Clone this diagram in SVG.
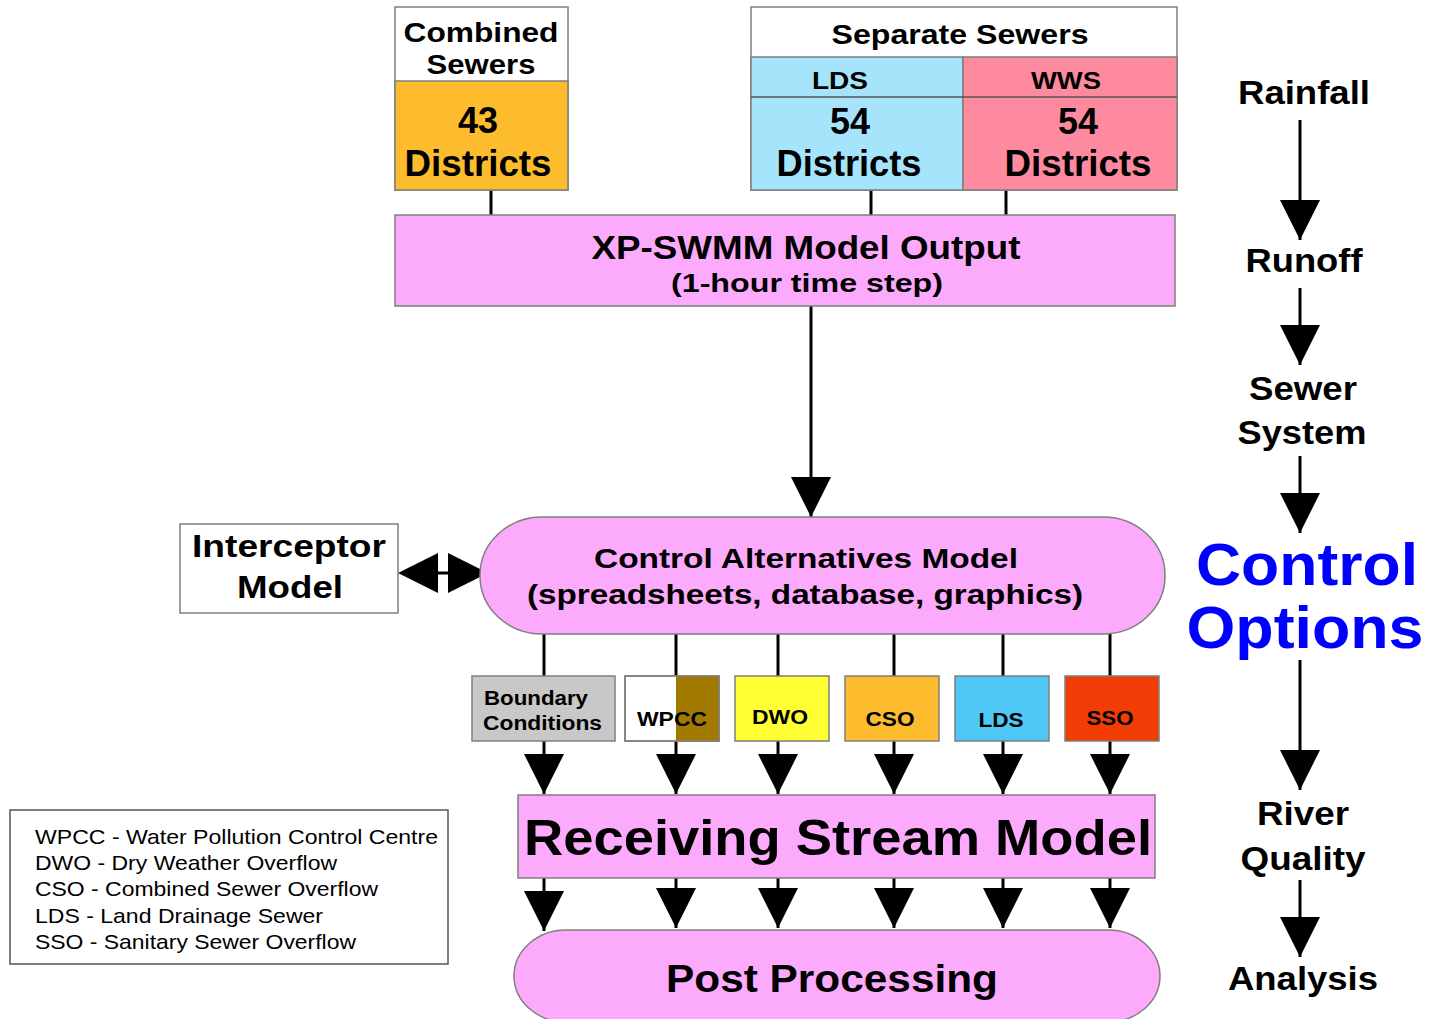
<svg xmlns="http://www.w3.org/2000/svg" width="1429" height="1019" viewBox="0 0 1429 1019">
<style>
.t{font-family:"Liberation Sans",Arial,sans-serif;font-weight:bold;fill:#000;text-anchor:middle}
.n{font-family:"Liberation Sans",Arial,sans-serif;fill:#000}
.bx{stroke:#7f7f7f;stroke-width:1.5}
.ln{stroke:#000;stroke-width:3;fill:none}
.ar{stroke:#000;stroke-width:3;fill:none;marker-end:url(#ah)}
.pk{fill:#FCAAFC}
</style>
<defs>
<marker id="ah" markerUnits="userSpaceOnUse" markerWidth="40" markerHeight="40" viewBox="0 0 36 36" refX="36" refY="18" orient="auto">
<path d="M0,0 L36,18 L0,36 Z" fill="#000"/>
</marker>
</defs>
<rect width="1429" height="1019" fill="#fff"/>

<g id="connectors">
<line class="ln" x1="491" y1="190" x2="491" y2="215"/>
<line class="ln" x1="871" y1="190" x2="871" y2="215"/>
<line class="ln" x1="1006" y1="190" x2="1006" y2="215"/>
<line class="ar" x1="811" y1="306" x2="811" y2="517"/>
<line class="ln" x1="430" y1="573" x2="456" y2="573"/>
<path d="M398,573 L438,553 L438,593 Z" fill="#000"/>
<path d="M488,573 L448,553 L448,593 Z" fill="#000"/>
<line class="ln" x1="544" y1="634" x2="544" y2="676"/>
<line class="ln" x1="676" y1="634" x2="676" y2="676"/>
<line class="ln" x1="778" y1="634" x2="778" y2="676"/>
<line class="ln" x1="894" y1="634" x2="894" y2="676"/>
<line class="ln" x1="1003" y1="634" x2="1003" y2="676"/>
<line class="ln" x1="1110" y1="634" x2="1110" y2="676"/>
<line class="ar" x1="544" y1="741" x2="544" y2="794"/>
<line class="ar" x1="676" y1="741" x2="676" y2="794"/>
<line class="ar" x1="778" y1="741" x2="778" y2="794"/>
<line class="ar" x1="894" y1="741" x2="894" y2="794"/>
<line class="ar" x1="1003" y1="741" x2="1003" y2="794"/>
<line class="ar" x1="1110" y1="741" x2="1110" y2="794"/>
<line class="ar" x1="544" y1="878" x2="544" y2="931"/>
<line class="ar" x1="676" y1="878" x2="676" y2="928"/>
<line class="ar" x1="778" y1="878" x2="778" y2="928"/>
<line class="ar" x1="894" y1="878" x2="894" y2="928"/>
<line class="ar" x1="1003" y1="878" x2="1003" y2="928"/>
<line class="ar" x1="1110" y1="878" x2="1110" y2="928"/>
<line class="ar" x1="1300" y1="120" x2="1300" y2="240"/>
<line class="ar" x1="1300" y1="288" x2="1300" y2="365"/>
<line class="ar" x1="1300" y1="456" x2="1300" y2="533"/>
<line class="ar" x1="1300" y1="660" x2="1300" y2="790"/>
<line class="ar" x1="1300" y1="880" x2="1300" y2="957"/>
</g>

<g id="combined-sewers">
<rect class="bx" x="395" y="7" width="173" height="183" fill="#fff"/>
<rect class="bx" x="395" y="81" width="173" height="109" fill="#FDBC2E"/>
<text class="t" x="481" y="42" font-size="28" textLength="155" lengthAdjust="spacingAndGlyphs">Combined</text>
<text class="t" x="481" y="74" font-size="28" textLength="109" lengthAdjust="spacingAndGlyphs">Sewers</text>
<text class="t" x="478" y="133" font-size="36">43</text>
<text class="t" x="478" y="176" font-size="36" textLength="147" lengthAdjust="spacingAndGlyphs">Districts</text>
</g>

<g id="separate-sewers">
<rect class="bx" x="751" y="7" width="426" height="183" fill="#fff"/>
<rect class="bx" x="751" y="57" width="212" height="133" fill="#A6E4FB"/>
<rect class="bx" x="963" y="57" width="214" height="133" fill="#FD8A9E"/>
<line x1="751" y1="97" x2="1177" y2="97" stroke="#555" stroke-width="1.5"/>
<text class="t" x="960" y="44" font-size="28" textLength="257" lengthAdjust="spacingAndGlyphs">Separate Sewers</text>
<text class="t" x="840" y="89" font-size="24" textLength="56" lengthAdjust="spacingAndGlyphs">LDS</text>
<text class="t" x="1066" y="89" font-size="24" textLength="70" lengthAdjust="spacingAndGlyphs">WWS</text>
<text class="t" x="850" y="134" font-size="36">54</text>
<text class="t" x="849" y="176" font-size="36" textLength="145" lengthAdjust="spacingAndGlyphs">Districts</text>
<text class="t" x="1078" y="134" font-size="36">54</text>
<text class="t" x="1078" y="176" font-size="36" textLength="147" lengthAdjust="spacingAndGlyphs">Districts</text>
</g>

<g id="xp-swmm">
<rect class="bx pk" x="395" y="215" width="780" height="91"/>
<text class="t" x="806" y="259" font-size="34" textLength="429" lengthAdjust="spacingAndGlyphs">XP-SWMM Model Output</text>
<text class="t" x="807" y="292" font-size="26" textLength="272" lengthAdjust="spacingAndGlyphs">(1-hour time step)</text>
</g>

<g id="interceptor-model">
<rect class="bx" x="180" y="524" width="218" height="89" fill="#fff"/>
<text class="t" x="289" y="557" font-size="32" textLength="194" lengthAdjust="spacingAndGlyphs">Interceptor</text>
<text class="t" x="290" y="598" font-size="32" textLength="106" lengthAdjust="spacingAndGlyphs">Model</text>
</g>

<g id="control-alternatives">
<rect class="bx pk" x="480" y="517" width="685" height="117" rx="62" ry="58"/>
<text class="t" x="806" y="568" font-size="27" textLength="424" lengthAdjust="spacingAndGlyphs">Control Alternatives Model</text>
<text class="t" x="805" y="604" font-size="27" textLength="556" lengthAdjust="spacingAndGlyphs">(spreadsheets, database, graphics)</text>
</g>

<g id="boundary-conditions">
<rect class="bx" x="472" y="676" width="143" height="65" fill="#C8C8C8"/>
<text class="n" x="484" y="705" font-size="20" font-weight="bold" textLength="104" lengthAdjust="spacingAndGlyphs">Boundary</text>
<text class="n" x="483" y="730" font-size="20" font-weight="bold" textLength="119" lengthAdjust="spacingAndGlyphs">Conditions</text>
</g>
<g id="wpcc">
<rect class="bx" x="625" y="676" width="94" height="65" fill="#fff"/>
<rect x="676" y="676" width="43" height="65" fill="#A37A00"/>
<rect x="625" y="676" width="94" height="65" fill="none" stroke="#7f7f7f" stroke-width="1.5"/>
<text class="n" x="637" y="726" font-size="20" font-weight="bold" textLength="70" lengthAdjust="spacingAndGlyphs">WPCC</text>
</g>
<g id="dwo">
<rect class="bx" x="735" y="676" width="94" height="65" fill="#FFFF33"/>
<text class="t" x="780" y="724" font-size="20" textLength="56" lengthAdjust="spacingAndGlyphs">DWO</text>
</g>
<g id="cso">
<rect class="bx" x="845" y="676" width="94" height="65" fill="#FDBC2E"/>
<text class="t" x="890" y="726" font-size="20" textLength="49" lengthAdjust="spacingAndGlyphs">CSO</text>
</g>
<g id="lds">
<rect class="bx" x="955" y="676" width="94" height="65" fill="#4FC8F5"/>
<text class="t" x="1001" y="727" font-size="20" textLength="45" lengthAdjust="spacingAndGlyphs">LDS</text>
</g>
<g id="sso">
<rect class="bx" x="1065" y="676" width="94" height="65" fill="#F23C05"/>
<text class="t" x="1110" y="725" font-size="20" textLength="47" lengthAdjust="spacingAndGlyphs">SSO</text>
</g>

<g id="receiving-stream">
<rect class="bx pk" x="518" y="795" width="637" height="83"/>
<text class="t" x="838" y="855" font-size="50" textLength="628" lengthAdjust="spacingAndGlyphs">Receiving Stream Model</text>
</g>

<g id="post-processing">
<rect class="bx pk" x="514" y="930" width="646" height="92" rx="52" ry="46"/>
<text class="t" x="832" y="992" font-size="38" textLength="332" lengthAdjust="spacingAndGlyphs">Post Processing</text>
</g>

<g id="legend">
<rect x="10" y="810" width="438" height="154" fill="#fff" stroke="#555" stroke-width="1.5"/>
<text class="n" x="35" y="844" font-size="21" textLength="403" lengthAdjust="spacingAndGlyphs">WPCC - Water Pollution Control Centre</text>
<text class="n" x="35" y="870" font-size="21" textLength="302" lengthAdjust="spacingAndGlyphs">DWO - Dry Weather Overflow</text>
<text class="n" x="35" y="896" font-size="21" textLength="343" lengthAdjust="spacingAndGlyphs">CSO - Combined Sewer Overflow</text>
<text class="n" x="35" y="923" font-size="21" textLength="288" lengthAdjust="spacingAndGlyphs">LDS - Land Drainage Sewer</text>
<text class="n" x="35" y="949" font-size="21" textLength="321" lengthAdjust="spacingAndGlyphs">SSO - Sanitary Sewer Overflow</text>
</g>

<g id="process-steps">
<text class="t" x="1304" y="104" font-size="34" textLength="132" lengthAdjust="spacingAndGlyphs">Rainfall</text>
<text class="t" x="1304" y="272" font-size="34" textLength="117" lengthAdjust="spacingAndGlyphs">Runoff</text>
<text class="t" x="1303" y="400" font-size="34" textLength="108" lengthAdjust="spacingAndGlyphs">Sewer</text>
<text class="t" x="1302" y="444" font-size="34" textLength="129" lengthAdjust="spacingAndGlyphs">System</text>
<text class="t" x="1307" y="585" font-size="60" fill="#0000FF" style="fill:#0000FF" textLength="222" lengthAdjust="spacingAndGlyphs">Control</text>
<text class="t" x="1305" y="648" font-size="60" style="fill:#0000FF" textLength="237" lengthAdjust="spacingAndGlyphs">Options</text>
<text class="t" x="1303" y="825" font-size="34" textLength="92" lengthAdjust="spacingAndGlyphs">River</text>
<text class="t" x="1303" y="870" font-size="34" textLength="125" lengthAdjust="spacingAndGlyphs">Quality</text>
<text class="t" x="1303" y="990" font-size="34" textLength="150" lengthAdjust="spacingAndGlyphs">Analysis</text>
</g>
</svg>
